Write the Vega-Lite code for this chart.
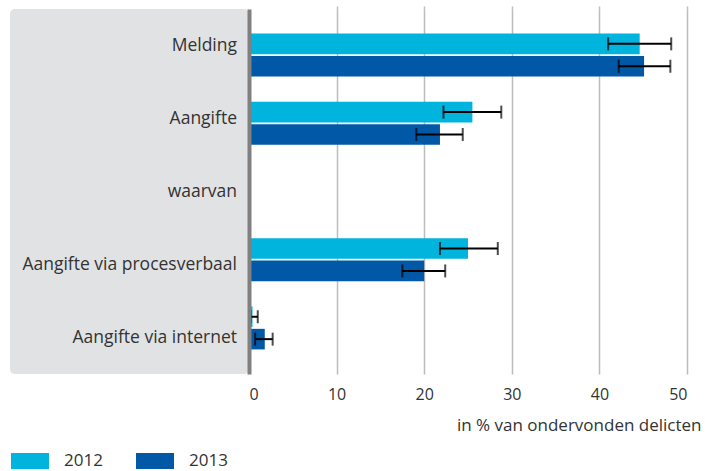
{
  "$schema": "https://vega.github.io/schema/vega-lite/v6.json",
  "padding": {"left": 10, "top": 5, "right": 2, "bottom": 2},
  "background": "white",
  "spacing": 0,
  "config": {
    "view": {"stroke": null},
    "font": "Open Sans",
    "legend": {"labelFont": "Open Sans"}
  },
  "datasets": {
    "bars": [
      {"cat": "Melding", "year": "2012", "value": 44.6, "lo": 41.0, "hi": 48.2},
      {"cat": "Melding", "year": "2013", "value": 45.1, "lo": 42.2, "hi": 48.1},
      {"cat": "Aangifte", "year": "2012", "value": 25.5, "lo": 22.2, "hi": 28.8},
      {"cat": "Aangifte", "year": "2013", "value": 21.8, "lo": 19.1, "hi": 24.4},
      {"cat": "Aangifte via procesverbaal", "year": "2012", "value": 25.0, "lo": 21.8, "hi": 28.4},
      {"cat": "Aangifte via procesverbaal", "year": "2013", "value": 20.0, "lo": 17.5, "hi": 22.4},
      {"cat": "Aangifte via internet", "year": "2012", "value": 0.4, "lo": 0.2, "hi": 1.0},
      {"cat": "Aangifte via internet", "year": "2013", "value": 1.8, "lo": 0.7, "hi": 2.7}
    ],
    "cats": [
      {"cat": "Melding"},
      {"cat": "Aangifte"},
      {"cat": "waarvan"},
      {"cat": "Aangifte via procesverbaal"},
      {"cat": "Aangifte via internet"}
    ]
  },
  "resolve": {"scale": {"y": "independent"}},
  "hconcat": [
    {
      "width": 239,
      "height": 365,
      "view": {"fill": "#e1e2e4", "cornerRadius": 5, "stroke": null},
      "data": {"name": "cats"},
      "mark": {"type": "text", "align": "right", "baseline": "middle", "x": "width", "dx": -12, "fontSize": 17.5, "color": "#333333"},
      "encoding": {
        "y": {
          "field": "cat", "type": "nominal",
          "scale": {"domain": ["Melding", "Aangifte", "waarvan", "Aangifte via procesverbaal", "Aangifte via internet"], "paddingInner": 0.37, "paddingOuter": 0.36},
          "axis": null
        },
        "text": {"field": "cat", "type": "nominal"}
      }
    },
    {
      "width": 438,
      "height": 365,
      "data": {"name": "bars"},
      "encoding": {
        "y": {
          "field": "cat", "type": "nominal",
          "scale": {"domain": ["Melding", "Aangifte", "waarvan", "Aangifte via procesverbaal", "Aangifte via internet"], "paddingInner": 0.37, "paddingOuter": 0.36},
          "axis": {"labels": false, "ticks": false, "grid": false, "title": null, "domain": true, "domainColor": "#808080", "domainWidth": 4, "minExtent": 0, "zindex": 2}
        },
        "yOffset": {"field": "year", "type": "nominal", "scale": {"domain": ["2012", "2013"], "paddingInner": 0.08}}
      },
      "layer": [
        {
          "mark": {"type": "bar"},
          "encoding": {
            "x": {
              "field": "value", "type": "quantitative",
              "scale": {"domain": [0, 50], "nice": false},
              "axis": {
                "orient": "bottom",
                "values": [0, 10, 20, 30, 40, 50],
                "grid": true,
                "gridColor": "#bdbdbd",
                "gridWidth": 1.5,
                "gridOpacity": {"condition": {"test": "datum.value === 0", "value": 0}, "value": 1},
                "ticks": false,
                "domain": false,
                "labelFontSize": 16,
                "labelColor": "#333333",
                "labelPadding": 12,
                "labelFont": "Open Sans",
                "title": "in % van ondervonden delicten",
                "titleFontSize": 17,
                "titleFontWeight": "normal",
                "titleColor": "#333333",
                "titleFont": "Open Sans",
                "titleAnchor": "end",
                "titleAlign": "right",
                "titleBaseline": "alphabetic",
                "titleX": 452,
                "titleY": 56
              }
            },
            "color": {
              "field": "year", "type": "nominal",
              "scale": {"domain": ["2012", "2013"], "range": ["#00b4de", "#0058a6"]},
              "legend": {
                "title": null,
                "orient": "none",
                "legendX": 1,
                "legendY": 433,
                "direction": "horizontal",
                "symbolType": "M-1,-0.421H1V0.421H-1Z",
                "symbolSize": 1444,
                "symbolStrokeWidth": 0,
                "symbolOpacity": 1,
                "labelFontSize": 17,
                "labelColor": "#333333",
                "labelOffset": 15,
                "columnPadding": 33,
                "padding": 0
              }
            }
          }
        },
        {
          "mark": {"type": "rule", "color": "#000000", "strokeWidth": 2},
          "encoding": {
            "x": {
              "field": "lo", "type": "quantitative",
              "axis": {
                "orient": "top", "values": [10, 20, 30, 40, 50], "labels": false, "domain": false, "grid": false,
                "ticks": true, "tickSize": 3, "tickColor": "#bdbdbd", "tickWidth": 1.5, "title": null
              }
            },
            "x2": {"field": "hi"}
          }
        },
        {
          "mark": {"type": "tick", "color": "#000000", "thickness": 2, "size": 13},
          "encoding": {"x": {"field": "lo", "type": "quantitative", "axis": null}}
        },
        {
          "mark": {"type": "tick", "color": "#000000", "thickness": 2, "size": 13},
          "encoding": {"x": {"field": "hi", "type": "quantitative", "axis": null}}
        }
      ],
      "resolve": {"axis": {"x": "independent"}}
    }
  ]
}
